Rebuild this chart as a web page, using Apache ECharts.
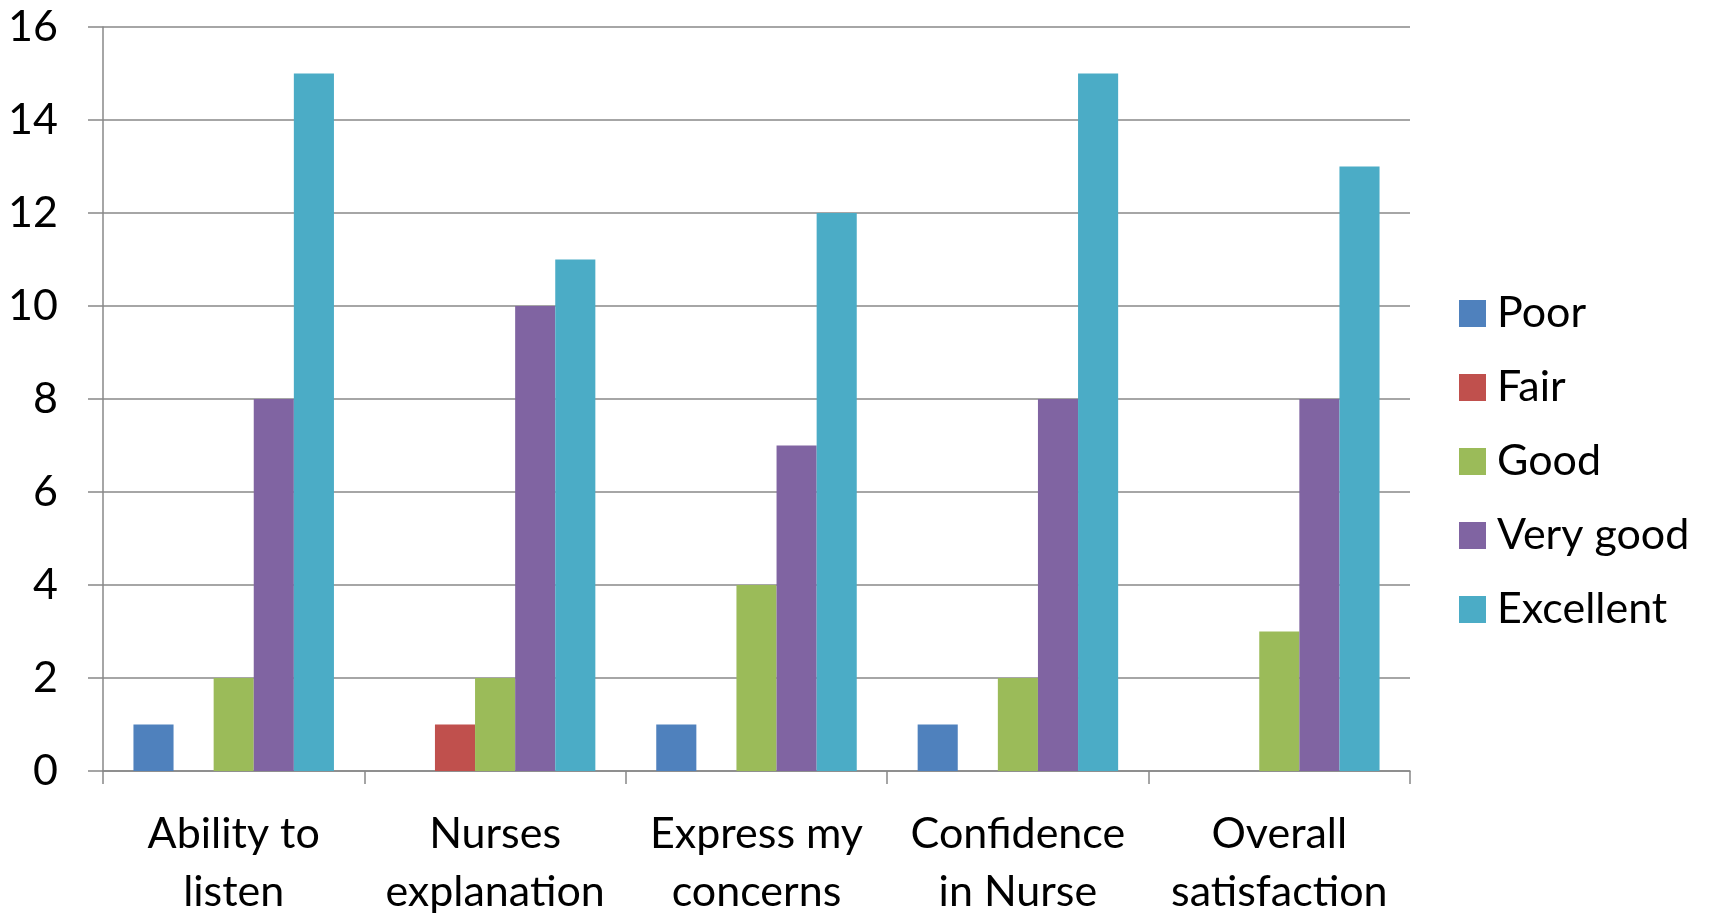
<!DOCTYPE html>
<html>
<head>
<meta charset="utf-8">
<script src="https://cdn.jsdelivr.net/npm/echarts@6/dist/echarts.min.js"></script>
<style>
html, body { margin: 0; padding: 0; background: #fff; }
#main { width: 1709px; height: 915px; }
</style>
</head>
<body>
<div id="main"></div>
<script>
var categories = ['Ability to\nlisten', 'Nurses\nexplanation', 'Express my\nconcerns', 'Confidence\nin Nurse', 'Overall\nsatisfaction'];
var seriesNames = ['Poor', 'Fair', 'Good', 'Very good', 'Excellent'];
var poor = [1, 0, 1, 1, 0];
var fair = [0, 1, 0, 0, 0];
var good = [2, 2, 4, 2, 3];
var veryGood = [8, 10, 7, 8, 8];
var excellent = [15, 11, 12, 15, 13];
var yTicks = [0, 2, 4, 6, 8, 10, 12, 14, 16];

var colors = ['#4F81BD', '#C0504D', '#9BBB59', '#8064A2', '#4BACC6'];
var values = [poor, fair, good, veryGood, excellent];
var font = 'Lato';

var myChart = echarts.init(document.getElementById('main'));

var series = [];
for (var i = 0; i < seriesNames.length; i++) {
    series.push({
        name: seriesNames[i],
        type: 'bar',
        data: values[i],
        barGap: 0,
        barCategoryGap: '23.3%',
        itemStyle: { color: colors[i] },
        animation: false
    });
}

myChart.setOption({
    color: colors,
    animation: false,
    grid: { left: 103, right: 299, top: 27, bottom: 144, containLabel: false, outerBoundsMode: 'none' },
    legend: {
        orient: 'vertical',
        left: 1454,
        top: 287,
        itemWidth: 27,
        itemHeight: 27,
        itemGap: 31,
        icon: 'rect',
        data: seriesNames,
        textStyle: { fontFamily: font, fontSize: 43, color: '#000', padding: [0, 0, 0, 6] }
    },
    xAxis: {
        type: 'category',
        data: categories,
        axisLine: { lineStyle: { color: '#888', width: 1.5 } },
        axisTick: { show: true, length: 13, lineStyle: { color: '#888', width: 1.5 } },
        axisLabel: {
            interval: 0,
            margin: 34,
            fontFamily: font,
            fontSize: 43,
            lineHeight: 58,
            color: '#000'
        }
    },
    yAxis: {
        type: 'value',
        min: yTicks[0],
        max: yTicks[yTicks.length - 1],
        interval: 2,
        axisLine: { show: true, lineStyle: { color: '#888', width: 1.5 } },
        axisTick: { show: true, length: 15, lineStyle: { color: '#888', width: 1.5 } },
        splitLine: { lineStyle: { color: '#888', width: 1.5 } },
        axisLabel: { margin: 45, fontFamily: font, fontSize: 43, color: '#000' }
    },
    series: series
});
</script>
</body>
</html>
